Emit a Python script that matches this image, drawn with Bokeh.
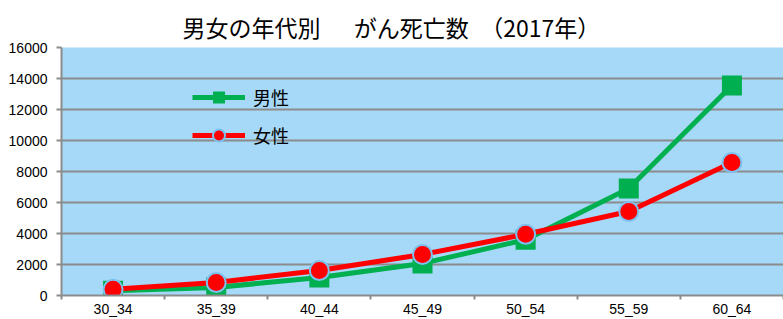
from bokeh.plotting import figure
from bokeh.models import Range1d, FixedTicker
from bokeh.embed import file_html
from bokeh.resources import INLINE

categories = ["30_34", "35_39", "40_44", "45_49", "50_54", "55_59", "60_64"]
male = [300, 520, 1160, 2070, 3600, 6900, 13550]
female = [400, 840, 1610, 2650, 3950, 5420, 8580]
y_ticks = [0, 2000, 4000, 6000, 8000, 10000, 12000, 14000, 16000]
title_text = "男女の年代別\u3000\u00a0\u00a0がん死亡数\u3000（2017年）"
legend_male = "男性"
legend_female = "女性"

xs = [i + 0.5 for i in range(len(categories))]
bounds = [float(i) for i in range(len(categories) + 1)]

GRAY = "#8C8C8C"
GREEN = "#00B050"
RED = "#FF0000"
CJK = "Noto Sans CJK JP"
LAT = "Liberation Sans"

p = figure(width=783, height=319, output_backend="svg", toolbar_location=None,
           x_range=Range1d(0, len(categories)), y_range=Range1d(0, 16000),
           min_border_left=61, min_border_right=0, min_border_top=47, min_border_bottom=0)

p.title.text = title_text
p.title.text_font = CJK
p.title.text_font_size = "23px"
p.title.text_font_style = "normal"
p.title.text_color = "#000000"
p.title.align = "left"
p.title.vertical_align = "top"
p.title.offset = 121
p.title.standoff = 4

p.background_fill_color = "#A6D8F7"
p.border_fill_color = "#FFFFFF"
p.outline_line_color = None

p.xgrid.visible = False
p.ygrid.ticker = FixedTicker(ticks=y_ticks)
p.ygrid.grid_line_color = GRAY
p.ygrid.grid_line_width = 2

xa = p.xaxis[0]
xa.ticker = FixedTicker(ticks=xs, minor_ticks=bounds)
xa.major_label_overrides = {x: c for x, c in zip(xs, categories)}
xa.axis_line_color = GRAY
xa.axis_line_width = 2
xa.major_tick_line_color = None
xa.major_tick_out = 0
xa.major_tick_in = 0
xa.minor_tick_line_color = GRAY
xa.minor_tick_line_width = 2
xa.minor_tick_out = 4
xa.minor_tick_in = 0
xa.major_label_text_font = LAT
xa.major_label_text_font_size = "14px"
xa.major_label_text_color = "#000000"
xa.major_label_standoff = 1
xa.axis_label_standoff = 0

ya = p.yaxis[0]
ya.ticker = FixedTicker(ticks=y_ticks)
ya.axis_line_color = GRAY
ya.axis_line_width = 2
ya.major_tick_line_color = GRAY
ya.major_tick_line_width = 2
ya.major_tick_out = 5
ya.major_tick_in = 0
ya.minor_tick_line_color = None
ya.major_label_text_font = LAT
ya.major_label_text_font_size = "14px"
ya.major_label_text_color = "#000000"
ya.major_label_standoff = 9

p.line(xs, male, line_color=GREEN, line_width=5, legend_label=legend_male)
p.scatter(xs, male, marker="square", size=20, fill_color=GREEN, line_color=GREEN,
          line_width=0, legend_label=legend_male)
p.line(xs, female, line_color=RED, line_width=5, legend_label=legend_female)
p.scatter(xs, female, marker="circle", size=19, fill_color=RED, line_color="#7CC2F0",
          line_width=2, legend_label=legend_female)

lg = p.legend[0]
lg.location = (131, 145)
lg.background_fill_alpha = 0
lg.border_line_color = None
lg.padding = 0
lg.margin = 0
lg.spacing = 8
lg.glyph_width = 53
lg.glyph_height = 30
lg.label_standoff = 8
lg.label_text_font = CJK
lg.label_text_font_size = "18px"
lg.label_text_color = "#000000"

open("out.html", "w").write(file_html(p, INLINE))
